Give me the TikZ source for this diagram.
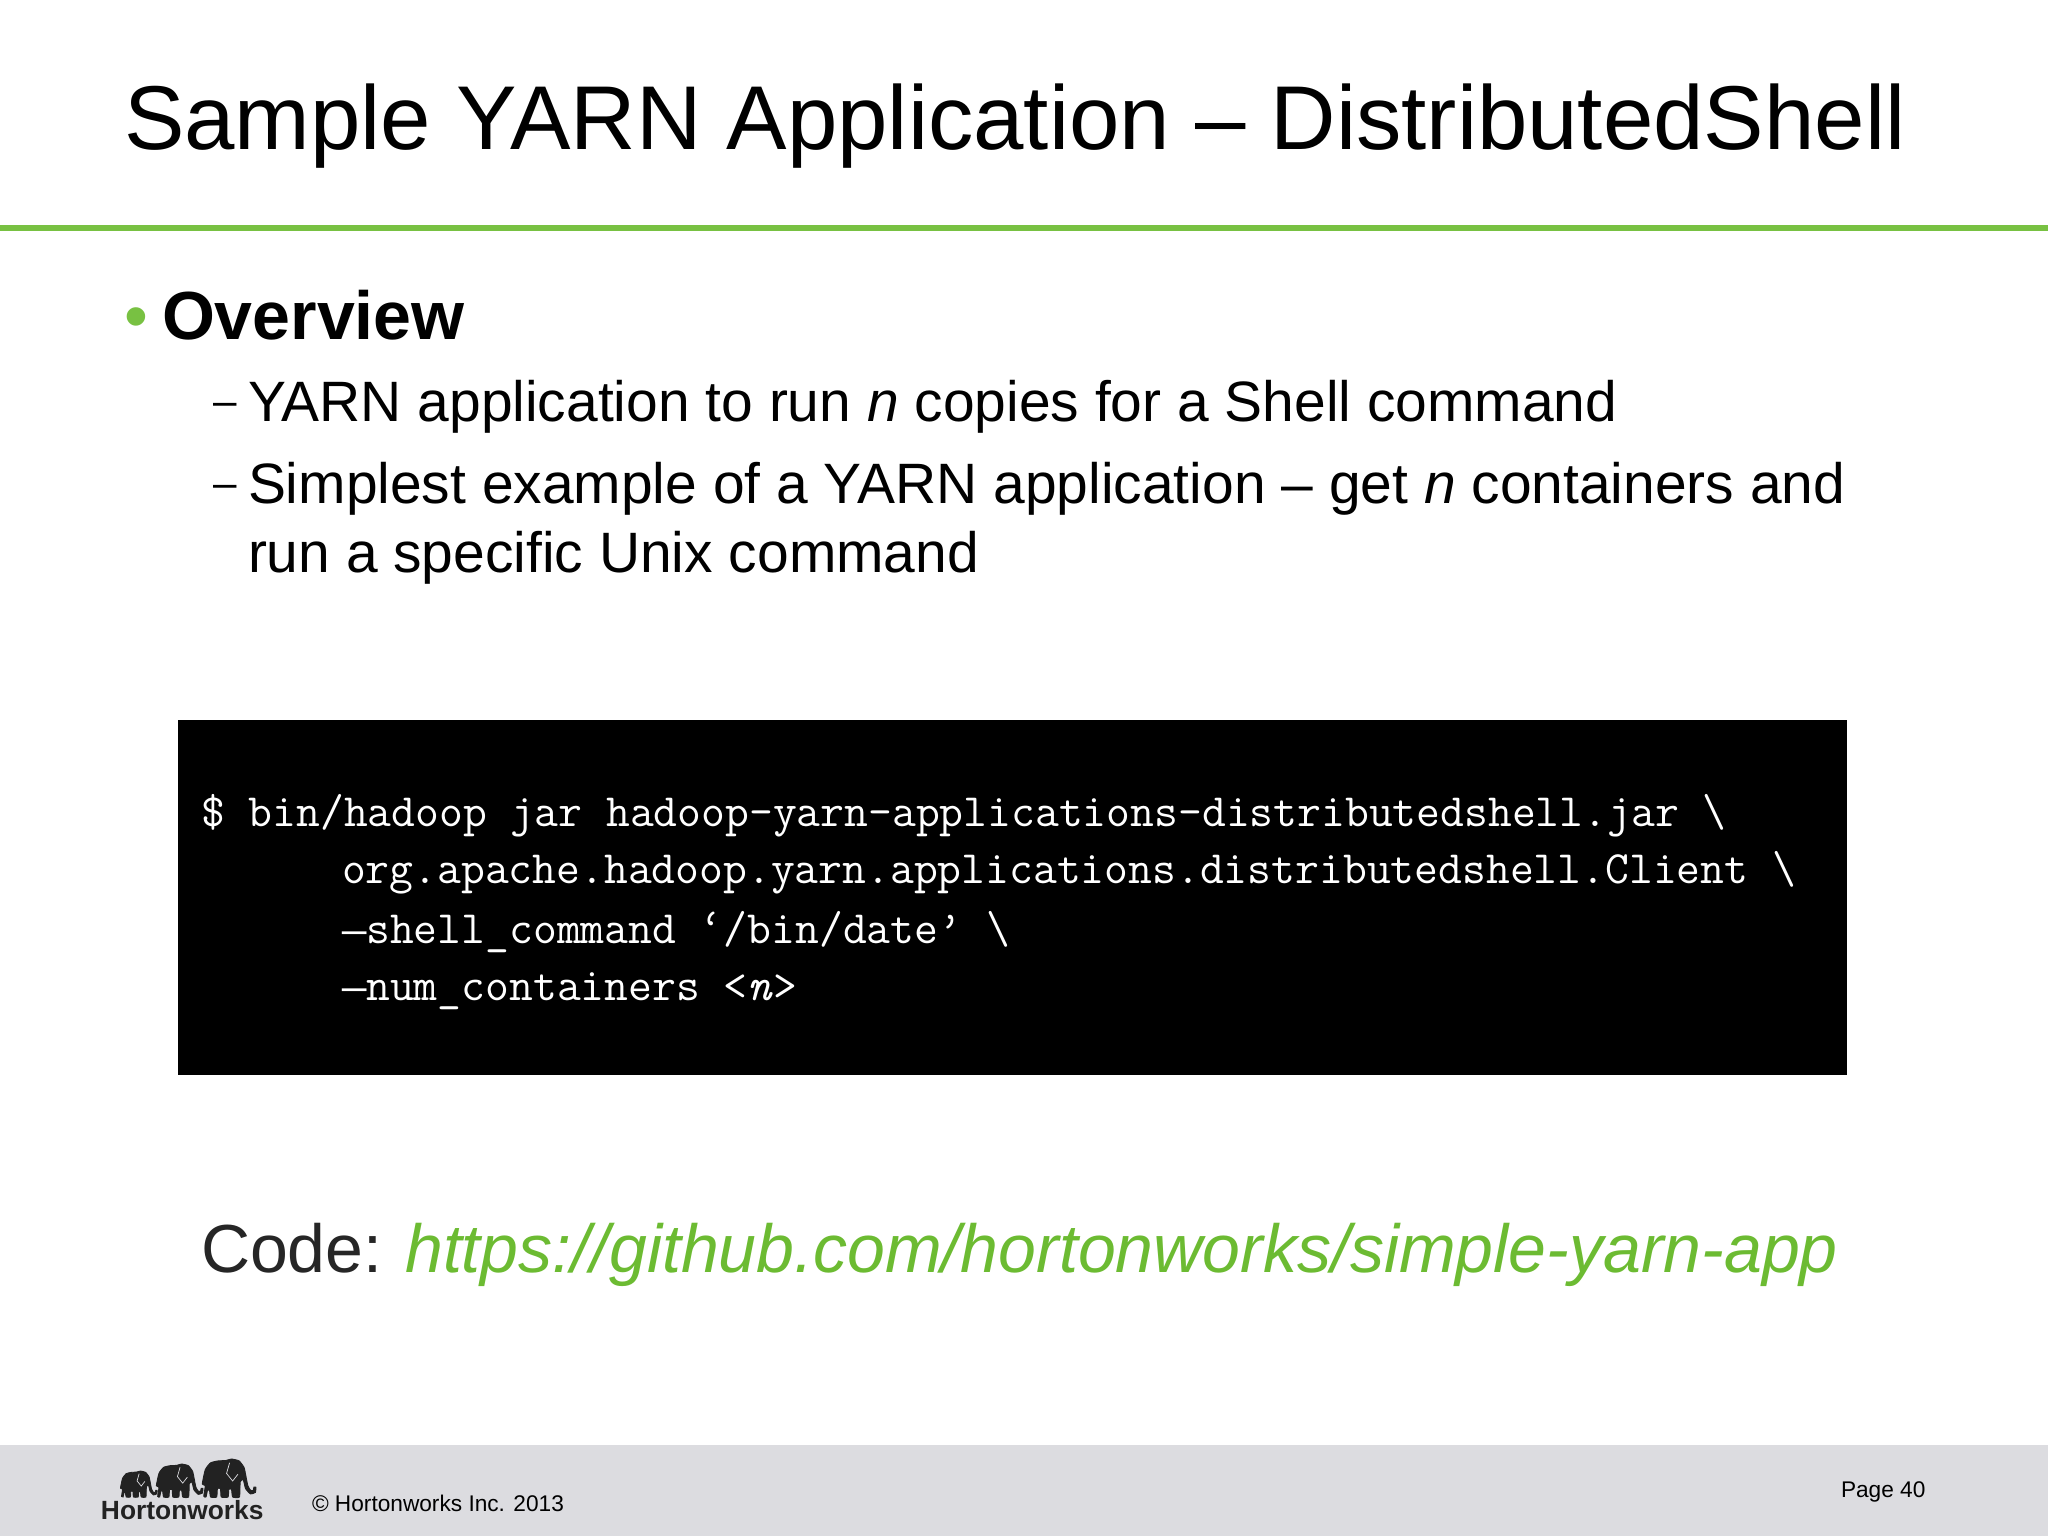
\documentclass[tikz,border=0pt]{standalone}
\usepackage{fontspec}
\setmainfont{Liberation Sans}
\newfontfamily\dashfont[Scale=0.875]{Liberation Mono}
\usetikzlibrary{positioning}
\definecolor{hwgreen}{HTML}{78C142}
\definecolor{hwlink}{HTML}{6CBB32}
\definecolor{footgray}{HTML}{DCDCE0}
\definecolor{logoblack}{HTML}{222222}
\tikzset{
  line/.style={anchor=base west,inner sep=0pt,outer sep=0pt},
  titletext/.style={line,font=\fontsize{25.79}{30}\selectfont,text=black},
  headtext/.style={line,font=\fontsize{19.37}{23}\selectfont\bfseries,text=black},
  dottext/.style={line,font=\fontsize{19.37}{23}\selectfont,text=hwgreen},
  bodytext/.style={line,font=\fontsize{16.2}{19}\selectfont,text=black},
  dashtext/.style={line,font=\fontsize{12}{14}\selectfont,text=black},
  codetext/.style={line,font=\fontsize{13.17}{15}\ttfamily\selectfont,text=white},
  linktext/.style={line,font=\fontsize{19.35}{24}\selectfont,text=black!85},
  foottext/.style={line,font=\fontsize{6.45}{8}\selectfont,text=black},
  elephant/.pic={
    \filldraw[logoblack,line width=0.25pt] plot[smooth cycle,tension=0.3] coordinates {
      (-2,34) (6,72) (20,90) (40,95) (60,96) (75,100) (95,95) (108,78) (113,55)
      (118,30) (125,18) (132,17) (134,26) (139,26) (138,12) (125,8) (112,22) (106,45)
      (98,40) (96,0) (78,0) (75,20) (68,20) (66,0) (48,0) (46,22) (38,22) (36,0)
      (20,0) (17,18) (12,18) (8,0) (2,2) (6,30)};
    \draw[footgray,line width=0.2pt] (70,90) -- (62,62) -- (78,42) -- (92,60);
  }
}
\newcommand{\codedash}{{\dashfont —}}
\begin{document}
\begin{tikzpicture}
  \useasboundingbox (0,0) rectangle (20.48,15.36);
  \fill[white] (0,0) rectangle (20.48,15.36);
  % title
  \node[titletext] (title) at (1.24,13.86) {Sample YARN Application – DistributedShell};
  \fill[hwgreen] (0,13.05) rectangle (20.48,13.11);
  % bullets
  \node[dottext] (dot) at (1.24,11.96) {•};
  \node[headtext] (overview) at (1.62,11.96) {Overview};
  \node[dashtext] (dasha) at (2.13,11.2) {–};
  \node[bodytext] (linea) at (2.48,11.14) {YARN application to run \textit{n} copies for a Shell command};
  \node[dashtext] (dashb) at (2.13,10.38) {–};
  \node[bodytext] (lineb) at (2.48,10.32) {Simplest example of a YARN application – get \textit{n} containers and};
  \node[bodytext] (linec) at (2.48,9.63) {run a specific Unix command};
  % code box
  \fill[black] (1.78,4.61) rectangle (18.47,8.16);
  \node[codetext] (codea) at (2.01,7.095) {\$ bin/hadoop jar hadoop-yarn-applications-distributedshell.jar \textbackslash};
  \node[codetext] (codeb) at (3.42,6.525) {org.apache.hadoop.yarn.applications.distributedshell.Client \textbackslash};
  \node[codetext] (codec) at (3.42,5.925) {\codedash shell\_command ‘/bin/date’ \textbackslash};
  \node[codetext] (coded) at (3.42,5.355) {\codedash num\_containers <\textit{n}>};
  % link
  \node[linktext] (link) at (2.01,2.63) {Code: \hspace{-0.7pt}\textcolor{hwlink}{\textit{https://github.com/hortonworks/simple-yarn-app}}};
  % footer
  \fill[footgray] (0,0) rectangle (20.48,0.91);
  \pic[scale=0.0026] at (1.21,0.39) {elephant};
  \pic[scale=0.0033] at (1.57,0.39) {elephant};
  \pic[scale=0.0038] at (2.03,0.39) {elephant};
  \node[line,font=\fontsize{7.5}{9}\selectfont\bfseries,text=logoblack] (logo) at (1.01,0.16) {Hortonworks};
  \node[foottext] (copy) at (3.12,0.24) {© Hortonworks Inc. 2013};
  \node[foottext] (page) at (18.41,0.38) {Page 40};
\end{tikzpicture}
\end{document}
